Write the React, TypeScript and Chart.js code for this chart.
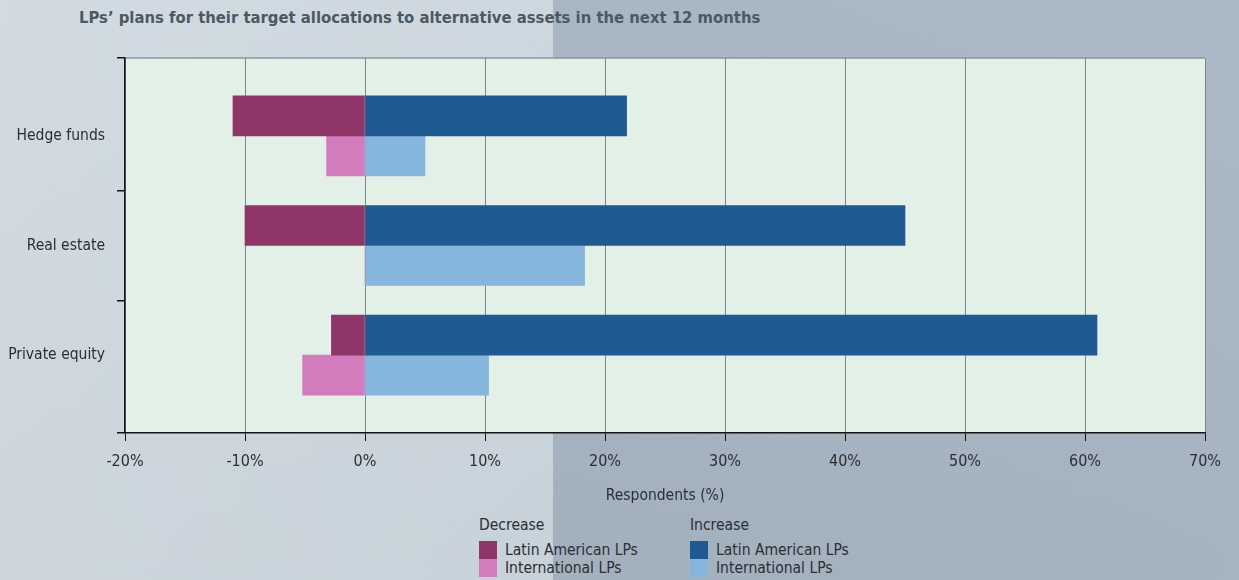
import React, { useEffect, useRef } from 'react';
import { Chart, registerables } from 'chart.js';

Chart.register(...registerables);

const chartTitle = 'LPs\u2019 plans for their target allocations to alternative assets in the next 12 months';
const axisTitle = 'Respondents (%)';
const categories = ['Hedge funds', 'Real estate', 'Private equity'];
const decreaseLatAm = [-11, -10, -2.8];
const decreaseIntl = [-3.2, 0, -5.2];
const increaseLatAm = [21.8, 45, 61];
const increaseIntl = [5, 18.3, 10.3];
const xMin = -20;
const xMax = 70;
const xStep = 10;
const categoryBoundaries = [0.5, 1.5];

const FONT = '"DejaVu Sans Condensed", "Liberation Sans Narrow", "Liberation Sans", sans-serif';
const TEXT = '#2b2f33';

const COLORS = {
  decLatAm: '#8f3567',
  decIntl: '#d27bbd',
  incLatAm: '#1f5a93',
  incIntl: '#86b6dd',
};

const legendGroups = [
  {
    title: 'Decrease',
    items: [
      { label: 'Latin American LPs', color: COLORS.decLatAm },
      { label: 'International LPs', color: COLORS.decIntl },
    ],
  },
  {
    title: 'Increase',
    items: [
      { label: 'Latin American LPs', color: COLORS.incLatAm },
      { label: 'International LPs', color: COLORS.incIntl },
    ],
  },
];

const plotBg = {
  id: 'plotBg',
  beforeDraw(chart: any) {
    const { ctx, chartArea } = chart;
    const { left, top, right, bottom } = chartArea;
    ctx.save();
    ctx.fillStyle = '#e2f0e7';
    ctx.fillRect(left, top, right - left, bottom - top);
    ctx.strokeStyle = '#8a9799';
    ctx.lineWidth = 1.5;
    ctx.beginPath();
    ctx.moveTo(left, top);
    ctx.lineTo(right, top);
    ctx.stroke();
    ctx.restore();
  },
};

export default function App() {
  const ref = useRef<HTMLCanvasElement | null>(null);

  useEffect(() => {
    if (!ref.current) return;
    const toPoints = (arr: number[]) => arr.map((v, i) => ({ x: v, y: i }));
    const font = { family: FONT, size: 15.5 };
    const chart = new Chart(ref.current, {
      type: 'bar',
      data: {
        datasets: [
          { label: 'Decrease – Latin American LPs', data: toPoints(decreaseLatAm), backgroundColor: COLORS.decLatAm, stack: 'latam', barThickness: 40 },
          { label: 'Decrease – International LPs', data: toPoints(decreaseIntl), backgroundColor: COLORS.decIntl, stack: 'intl', barThickness: 40 },
          { label: 'Increase – Latin American LPs', data: toPoints(increaseLatAm), backgroundColor: COLORS.incLatAm, stack: 'latam', barThickness: 40 },
          { label: 'Increase – International LPs', data: toPoints(increaseIntl), backgroundColor: COLORS.incIntl, stack: 'intl', barThickness: 40 },
        ] as any,
      },
      options: {
        indexAxis: 'y',
        responsive: false,
        animation: false,
        devicePixelRatio: 1,
        layout: { padding: { top: 58, right: 34, left: 0, bottom: 0 } },
        plugins: { legend: { display: false }, tooltip: { enabled: false }, title: { display: false } },
        scales: {
          x: {
            type: 'linear',
            min: xMin,
            max: xMax,
            stacked: true,
            afterFit: (scale: any) => { scale.height = 82; },
            ticks: { stepSize: xStep, callback: (v: any) => `${v}%`, font: { family: FONT, size: 16 }, color: TEXT, padding: 11, maxRotation: 0 },
            grid: { color: '#7f8789', lineWidth: 1, tickColor: '#151515', tickLength: 8, drawTicks: true },
            border: { color: '#151515', width: 1.5 },
            title: { display: true, text: axisTitle, font, color: TEXT, padding: { top: 0, bottom: 10 } },
          },
          y: {
            type: 'linear',
            reverse: true,
            min: -0.71,
            max: 2.71,
            offset: false,
            afterFit: (scale: any) => { scale.width = 125; },
            afterBuildTicks: (scale: any) => {
              const vals = [scale.min, ...categories.map((_, i) => i), ...categoryBoundaries, scale.max].sort((a, b) => a - b);
              scale.ticks = vals.map((value) => ({ value }));
            },
            ticks: {
              autoSkip: false,
              font,
              color: TEXT,
              padding: 12,
              callback: (v: any) => (Number.isInteger(v) && categories[v] !== undefined ? categories[v] : ''),
            },
            grid: {
              offset: false,
              drawOnChartArea: false,
              drawTicks: true,
              tickLength: 8,
              lineWidth: 1.5,
              tickColor: (ctx: any) => (Number.isInteger(ctx.tick?.value) ? 'rgba(0,0,0,0)' : '#151515'),
            },
            border: { color: '#151515', width: 1.5 },
          },
        },
      } as any,
      plugins: [plotBg],
    });
    return () => chart.destroy();
  }, []);

  return (
    <div
      style={{
        position: 'absolute',
        left: 0,
        top: 0,
        width: 1239,
        height: 580,
        overflow: 'hidden',
        fontFamily: FONT,
        background:
          'linear-gradient(to bottom, rgba(255,255,255,0.03), rgba(0,0,0,0.02)), linear-gradient(90deg, #d1dae1 0px, #ccd6de 553px, #a6b4c1 553px, #a9b7c4 1239px)',
      }}
    >
      <div style={{ position: 'absolute', left: 79, top: 8, fontSize: 16.5, fontWeight: 'bold', color: '#4b5965', whiteSpace: 'nowrap' }}>
        {chartTitle}
      </div>
      <canvas ref={ref} width={1239} height={515} style={{ position: 'absolute', left: 0, top: 0 }} />
      {legendGroups.map((g, gi) => (
        <div key={gi} style={{ position: 'absolute', left: gi === 0 ? 479 : 690, top: 516, color: TEXT, fontSize: 15.5, lineHeight: '18px' }}>
          <div style={{ marginBottom: 7 }}>{g.title}</div>
          {g.items.map((it, ii) => (
            <div key={ii} style={{ display: 'flex', alignItems: 'center', height: 18 }}>
              <span style={{ display: 'inline-block', width: 18, height: 18, background: it.color, marginRight: 8 }} />
              <span>{it.label}</span>
            </div>
          ))}
        </div>
      ))}
    </div>
  );
}
